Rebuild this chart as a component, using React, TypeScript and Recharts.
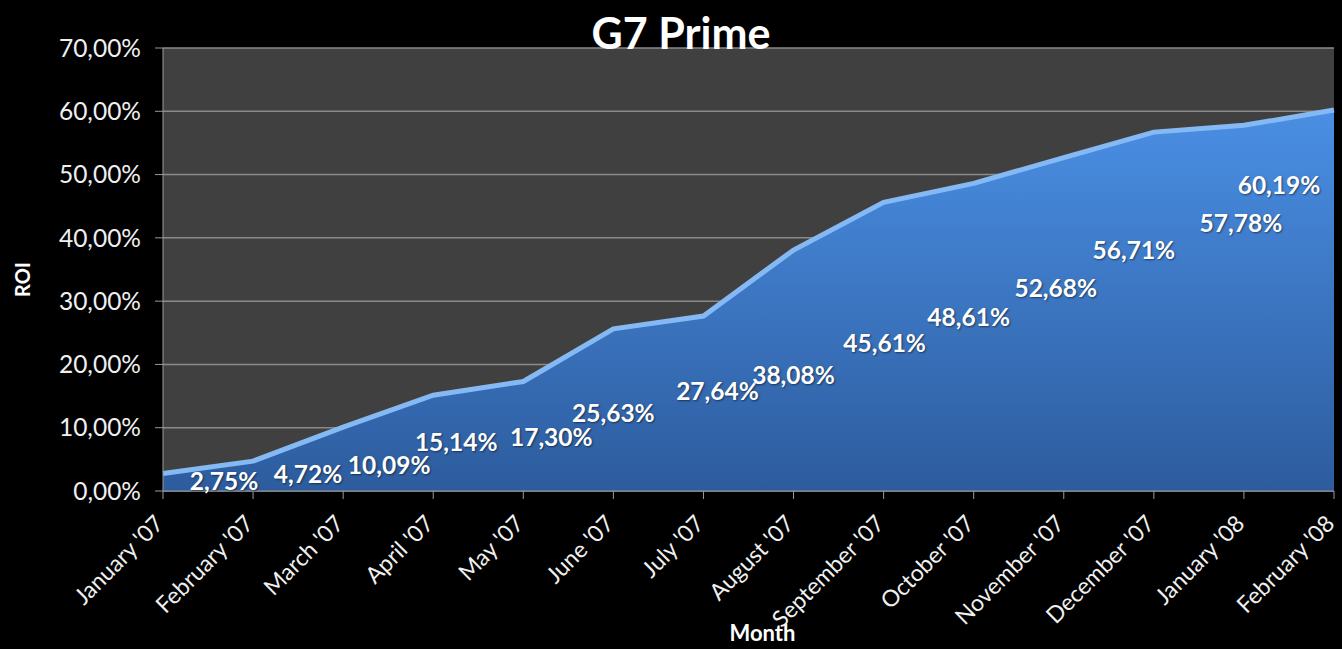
import React from 'react';
import {
  AreaChart,
  Area,
  XAxis,
  YAxis,
  CartesianGrid,
  LabelList,
  Label,
} from 'recharts';

const months = [
  "January '07", "February '07", "March '07", "April '07", "May '07", "June '07", "July '07",
  "August '07", "September '07", "October '07", "November '07", "December '07", "January '08", "February '08",
];
const roi = [2.75, 4.72, 10.09, 15.14, 17.30, 25.63, 27.64, 38.08, 45.61, 48.61, 52.68, 56.71, 57.78, 60.19];
const yTicks = [0, 10, 20, 30, 40, 50, 60, 70];

// where each data label sits relative to its point (the original has them drifting below the line)
const labelShift = [
  [61, 7], [55, 12], [46, 37], [23, 46], [28, 55], [0, 84], [14, 74],
  [0, 124], [1, 140], [-5, 133], [-8, 130], [-20, 117], [-3, 97], [-55, 74],
];

const data = months.map((m, i) => ({ month: m, roi: roi[i] }));

const pct = (v: number) => v.toFixed(2).replace('.', ',') + '%';
const FONT = 'Lato, "Open Sans", sans-serif';

function XTick(props: any) {
  const { x, y, payload } = props;
  const tx = x + 2;
  const ty = y + 24;
  return (
    <text
      x={tx}
      y={ty}
      transform={`rotate(-45, ${tx}, ${ty})`}
      textAnchor="end"
      fill="#f0f0f0"
      fontSize={23}
      fontFamily={FONT}
    >
      {payload.value}
    </text>
  );
}

function PointLabel(props: any) {
  const { x, y, index, value } = props;
  const [dx, dy] = labelShift[index] || [0, 0];
  return (
    <text
      x={x + dx}
      y={y + dy}
      textAnchor="middle"
      dominantBaseline="central"
      fill="#ffffff"
      fontSize={24.5}
      fontWeight="bold"
      fontFamily={FONT}
      style={{ textShadow: '1px 1px 2px rgba(0,0,0,0.5)' }}
    >
      {pct(value)}
    </text>
  );
}

export default function App() {
  return (
    <div style={{ position: 'fixed', left: 0, top: 0, width: 1342, height: 649, background: '#000', overflow: 'hidden' }}>
      <div
        style={{
          position: 'absolute',
          left: 0,
          width: 1362,
          top: 6,
          textAlign: 'center',
          color: '#fff',
          fontFamily: FONT,
          fontWeight: 'bold',
          fontSize: 43,
          lineHeight: '54px',
          zIndex: 2,
        }}
      >
        G7 Prime
      </div>
      <AreaChart width={1342} height={649} data={data} margin={{ top: 48, right: 8, bottom: 4, left: 0 }}>
        <defs>
          <linearGradient id="roiFill" x1="0" y1="0" x2="0" y2="1">
            <stop offset="0%" stopColor="#4a8fe4" />
            <stop offset="100%" stopColor="#2d5c9e" />
          </linearGradient>
        </defs>
        <CartesianGrid vertical={false} stroke="#8a8a8a" strokeWidth={1.5} fill="#404040" />
        <XAxis
          dataKey="month"
          interval={0}
          height={154}
          stroke="#9a9a9a"
          tickSize={8}
          tick={<XTick />}
        >
          <Label
            content={(p: any) => (
              <text
                x={p.viewBox.x + p.viewBox.width / 2 + 14}
                y={p.viewBox.y + 150}
                textAnchor="middle"
                fill="#fff"
                fontSize={22}
                fontWeight="bold"
                fontFamily={FONT}
              >
                Month
              </text>
            )}
          />
        </XAxis>
        <YAxis
          width={163}
          domain={[0, 70]}
          ticks={yTicks}
          tickFormatter={pct}
          stroke="#9a9a9a"
          tickSize={8}
          tickMargin={14}
          tick={{ fill: '#f0f0f0', fontSize: 24.5, fontFamily: FONT }}
        >
          <Label
            content={(p: any) => {
              const cx = 22;
              const cy = p.viewBox.y + p.viewBox.height / 2 + 10;
              return (
                <text
                  x={cx}
                  y={cy}
                  transform={`rotate(-90, ${cx}, ${cy})`}
                  textAnchor="middle"
                  dominantBaseline="central"
                  fill="#fff"
                  fontSize={20}
                  fontWeight="bold"
                  fontFamily={FONT}
                >
                  ROI
                </text>
              );
            }}
          />
        </YAxis>
        <Area
          type="linear"
          dataKey="roi"
          stroke="#84b9f4"
          strokeWidth={5}
          fill="url(#roiFill)"
          fillOpacity={1}
          isAnimationActive={false}
        >
          <LabelList dataKey="roi" content={<PointLabel />} />
        </Area>
      </AreaChart>
    </div>
  );
}
